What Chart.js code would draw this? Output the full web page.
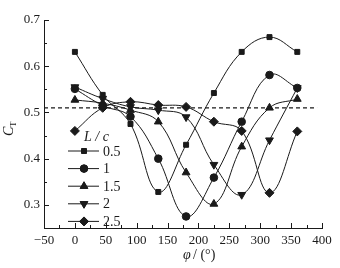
<!DOCTYPE html>
<html>
<head>
<meta charset="utf-8">
<script src="https://cdn.jsdelivr.net/npm/chart.js@4/dist/chart.umd.min.js"></script>
<style>
  html, body { margin: 0; padding: 0; background: #fff; }
  #wrap { width: 340px; height: 268px; }
</style>
</head>
<body>
<div id="wrap"><canvas id="ctChart" width="340" height="268"></canvas></div>
<script>
// phase angle (deg) and C_T for each L/c
const phi = [0, 45, 90, 135, 180, 225, 270, 315, 360];
const ratios = ['0.5', '1', '1.5', '2', '2.5'];
const ct05 = [0.631, 0.538, 0.475, 0.328, 0.430, 0.542, 0.631, 0.663, 0.631];
const ct10 = [0.551, 0.515, 0.491, 0.400, 0.275, 0.359, 0.480, 0.581, 0.553];
const ct15 = [0.527, 0.520, 0.505, 0.480, 0.370, 0.302, 0.426, 0.510, 0.529];
const ct20 = [0.555, 0.530, 0.512, 0.505, 0.490, 0.387, 0.322, 0.440, 0.553];
const ct25 = [0.460, 0.510, 0.523, 0.516, 0.512, 0.480, 0.460, 0.326, 0.459];
const refX = [-50, 392];
const refY = [0.51, 0.51];
const xTicks = [-50, 0, 50, 100, 150, 200, 250, 300, 350, 400];
const yTicks = [0.3, 0.4, 0.5, 0.6, 0.7];

const series = [ct05, ct10, ct15, ct20, ct25];
const markers = [
    { style: 'rect', rot: 0, r: 3.5 },
    { style: 'circle', rot: 0, r: 3.8 },
    { style: 'triangle', rot: 0, r: 4.5 },
    { style: 'triangle', rot: 180, r: 4.5 },
    { style: 'rectRot', rot: 0, r: 4.5 }
];
const ink = '#1a1a1a';
const serif = '"Liberation Serif", "DejaVu Serif", serif';

const datasets = series.map((vals, i) => ({
    label: ratios[i],
    data: phi.map((p, k) => ({ x: p, y: vals[k] })),
    showLine: true,
    tension: 0.4,
    borderColor: ink,
    borderWidth: 1,
    backgroundColor: ink,
    pointStyle: markers[i].style,
    pointRotation: markers[i].rot,
    pointRadius: markers[i].r,
    pointHoverRadius: markers[i].r
}));

datasets.push({
    label: 'ref',
    data: refX.map((x, k) => ({ x: x, y: refY[k] })),
    showLine: true,
    borderColor: ink,
    borderWidth: 1.2,
    borderDash: [4, 3],
    pointRadius: 0
});

// inward major/minor ticks, axis titles and the L/c legend
const decorPlugin = {
    id: 'decor',
    afterDraw(chart) {
        const c = chart.ctx;
        const xs = chart.scales.x, ys = chart.scales.y;
        const a = chart.chartArea;
        c.save();
        c.strokeStyle = ink;
        c.lineWidth = 1;
        c.beginPath();
        for (let v = -50; v <= 400; v += 25) {
            const px = Math.round(xs.getPixelForValue(v)) + 0.5;
            const len = v % 50 === 0 ? 5 : 3;
            c.moveTo(px, a.bottom);
            c.lineTo(px, a.bottom - len);
        }
        for (let k = 0; k <= 9; k++) {
            const v = 0.25 + k * 0.05;
            const py = Math.round(ys.getPixelForValue(v)) + 0.5;
            const len = (k % 2 === 1) ? 5 : 3;
            c.moveTo(a.left, py);
            c.lineTo(a.left + len, py);
        }
        c.stroke();

        c.fillStyle = ink;
        // x title
        c.textBaseline = 'middle';
        c.textAlign = 'left';
        c.font = 'italic 14px ' + serif;
        c.fillText('\u03c6', 183, 255);
        c.font = '14px ' + serif;
        c.fillText('/ (\u00b0)', 193, 255);

        // y title C_T
        c.translate(13, 130);
        c.rotate(-Math.PI / 2);
        c.font = 'italic 14px ' + serif;
        c.textBaseline = 'alphabetic';
        c.fillText('C', -6, 0);
        c.font = '9px ' + serif;
        c.fillText('T', 3, 3);
        c.setTransform(1, 0, 0, 1, 0, 0);

        // legend
        c.font = 'italic 14px ' + serif;
        c.textBaseline = 'middle';
        c.fillText('L / c', 84, 137);
        c.font = '14px ' + serif;
        ratios.forEach((lab, i) => {
            const y = 151 + i * 17.6;
            c.beginPath();
            c.moveTo(68, y);
            c.lineTo(99, y);
            c.stroke();
            Chart.helpers.drawPoint(c, {
                pointStyle: markers[i].style,
                rotation: markers[i].rot,
                radius: markers[i].r,
                borderWidth: 1
            }, 84, y);
            c.fill();
            c.fillText(lab, 103, y + 1);
        });
        c.restore();
    }
};

new Chart(document.getElementById('ctChart'), {
    type: 'scatter',
    data: { datasets: datasets },
    options: {
        responsive: false,
        animation: false,
        layout: { padding: { left: 0, right: 18, top: 20, bottom: 0 } },
        plugins: {
            legend: { display: false },
            tooltip: { enabled: false }
        },
        scales: {
            x: {
                type: 'linear',
                min: -50,
                max: 400,
                afterBuildTicks: s => { s.ticks = xTicks.map(v => ({ value: v })); },
                afterFit: s => { s.height = 40; },
                grid: { display: false, drawTicks: false },
                border: { display: true, color: ink, width: 1 },
                ticks: {
                    color: ink,
                    padding: 5,
                    maxRotation: 0,
                    font: { family: serif, size: 13 },
                    callback: v => (v < 0 ? '\u2212' + Math.abs(v) : String(v))
                }
            },
            y: {
                min: 0.25,
                max: 0.7,
                afterBuildTicks: s => { s.ticks = yTicks.map(v => ({ value: v })); },
                afterFit: s => { s.width = 44; },
                grid: { display: false, drawTicks: false },
                border: { display: true, color: ink, width: 1 },
                ticks: {
                    color: ink,
                    padding: 4,
                    font: { family: serif, size: 13 },
                    callback: v => v.toFixed(1)
                }
            }
        }
    },
    plugins: [decorPlugin]
});
</script>
</body>
</html>
